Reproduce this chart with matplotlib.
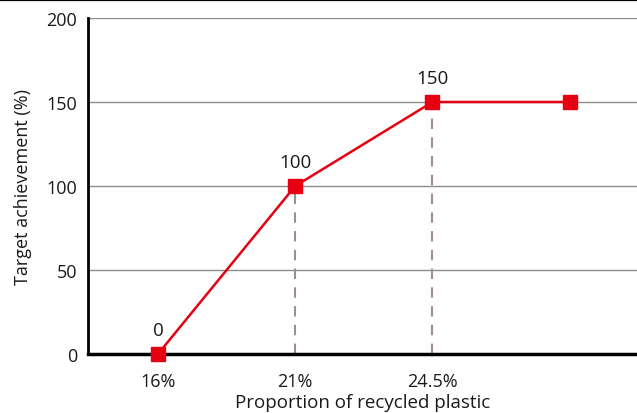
import matplotlib
matplotlib.use("Agg")
import matplotlib.pyplot as plt
from matplotlib.lines import Line2D

plt.rcParams['font.family'] = ['Open Sans', 'DejaVu Sans']

categories = ["16%", "21%", "24.5%", ""]
achievement = [0, 100, 150, 150]
value_labels = ["0", "100", "150", None]
dropline_idx = [1, 2]

red = "#e60012"
grid_col = "#8c8c8c"
drop_col = "#9e8f8f"
text_col = "#1a1a1a"

fig = plt.figure(figsize=(6.37, 4.14), dpi=100)
ax = fig.add_axes([88 / 637, 59 / 414, 1 - 88 / 637, (355 - 19) / 414])

x = list(range(len(categories)))
ax.set_xlim(-0.51, 3.49)
ax.set_ylim(0, 200)
ax.set_yticks([0, 50, 100, 150, 200])
ax.yaxis.grid(True, color=grid_col, linewidth=1.0)
ax.set_axisbelow(True)

for i in dropline_idx:
    ax.plot([x[i], x[i]], [0, achievement[i]], color=drop_col, linestyle=(0, (5, 4)),
            linewidth=1.5, zorder=2)

ax.plot(x, achievement, color=red, linewidth=1.8, marker="s", markersize=10.5,
        markeredgecolor=red, markerfacecolor=red, zorder=3, clip_on=False)

for xi, yi, lab in zip(x, achievement, value_labels):
    if lab is not None:
        ax.annotate(lab, (xi, yi), xytext=(0, 11), textcoords="offset points",
                    ha="center", va="bottom", fontsize=13.5, color=text_col)

ax.set_xticks(x)
ax.set_xticklabels(categories)
ax.tick_params(axis="both", length=0, labelsize=13, labelcolor=text_col)
ax.tick_params(axis="x", pad=13)
ax.tick_params(axis="y", pad=8)
ax.set_xlabel("Proportion of recycled plastic", fontsize=13.5, color=text_col, labelpad=2)
ax.set_ylabel("Target achievement (%)", fontsize=13, color=text_col, labelpad=10)

for s in ["top", "right"]:
    ax.spines[s].set_visible(False)
ax.spines["left"].set_linewidth(2.0)
ax.spines["bottom"].set_linewidth(2.5)
ax.spines["left"].set_color("black")
ax.spines["bottom"].set_color("black")

fig.add_artist(Line2D([0, 1], [1 - 0.8 / 414, 1 - 0.8 / 414], transform=fig.transFigure,
                      color="black", linewidth=1.6))

fig.savefig("out.png", dpi=100)
